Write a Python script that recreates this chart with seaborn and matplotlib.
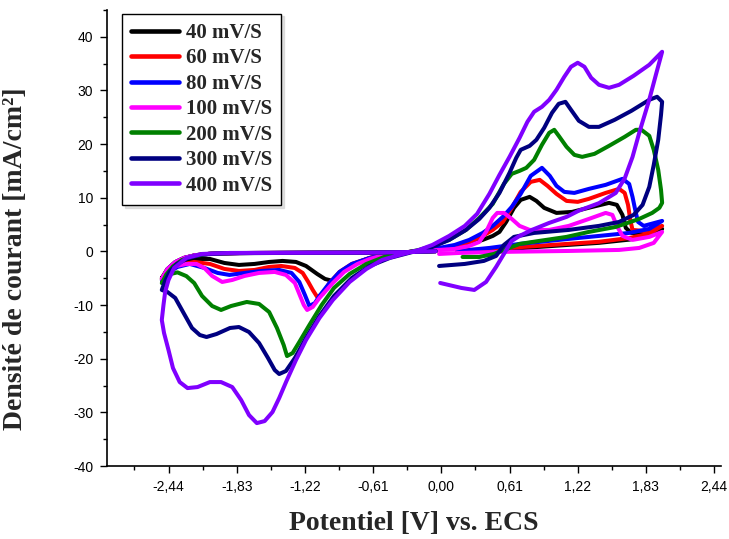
import numpy as np
import pandas as pd
import matplotlib
matplotlib.use("Agg")
import matplotlib.pyplot as plt
import seaborn as sns
from matplotlib.ticker import FixedLocator, FixedFormatter

# ---------------- data (potential E in V vs ECS, current density J in mA/cm2) -------------
labels = ["40 mV/S", "60 mV/S", "80 mV/S", "100 mV/S", "200 mV/S", "300 mV/S", "400 mV/S"]
colors = ["#000000", "#FF0000", "#0000FF", "#FF00FF", "#008000", "#000080", "#8000FF"]

E40 = [-0.05, -0.30, -0.60, -1.20, -1.80, -2.05, -2.20, -2.30, -2.38, -2.45,
       -2.50, -2.43, -2.34, -2.21, -2.07, -1.94, -1.81, -1.67, -1.54, -1.42, -1.30, -1.21,
       -1.11, -1.04, -0.97, -0.91, -0.85, -0.76, -0.64, -0.51, -0.375, -0.20, -0.02,
       0.12, 0.25, 0.37, 0.46, 0.52, 0.58, 0.65, 0.71, 0.79, 0.85, 0.92, 1.03, 1.17, 1.35,
       1.50, 1.57, 1.62, 1.65, 1.70, 1.81, 1.975,
       1.86, 1.68, 1.41, 1.05, 0.70, 0.43, 0.25, 0.14]
J40 = [0.05, -0.12, -0.22, -0.25, -0.30, -0.40, -0.70, -1.20, -2.00, -3.30,
       -4.95, -3.45, -2.15, -1.40, -1.40, -2.15, -2.52, -2.33, -1.96, -1.77, -1.96, -2.71,
       -4.20, -5.13, -5.50, -4.57, -3.26, -2.15, -1.21, -0.65, -0.28, 0.09, 0.47,
       0.84, 1.40, 2.15, 2.89, 3.64, 5.50, 8.12, 9.61, 10.17, 9.42, 8.12, 7.18, 7.37, 8.30,
       9.05, 8.68, 6.81, 4.38, 3.45, 3.45, 4.20,
       2.90, 2.20, 1.60, 1.10, 0.60, 0.30, 0.15, -0.10]

E60 = [-0.05, -0.30, -0.60, -1.20, -1.80, -2.05, -2.20, -2.30, -2.38, -2.45,
       -2.50, -2.43, -2.34, -2.21, -2.07, -1.94, -1.81, -1.67, -1.54, -1.43, -1.31, -1.24,
       -1.19, -1.15, -1.11, -1.06, -1.00, -0.91, -0.80, -0.64, -0.51, -0.375, -0.20, -0.02,
       0.12, 0.25, 0.37, 0.46, 0.55, 0.63, 0.71, 0.80, 0.88, 0.95, 1.03, 1.12, 1.22, 1.32,
       1.47, 1.59, 1.64, 1.67, 1.69, 1.71, 1.81, 1.975,
       1.86, 1.68, 1.41, 1.05, 0.70, 0.43, 0.25, 0.14]
J60 = [0.05, -0.12, -0.22, -0.25, -0.30, -0.40, -0.70, -1.20, -2.00, -3.30,
       -5.13, -3.64, -2.52, -1.96, -2.33, -3.26, -3.64, -3.45, -2.89, -2.71, -3.08, -4.01,
       -5.69, -7.18, -8.49, -7.93, -5.88, -3.82, -2.33, -1.21, -0.65, -0.28, 0.09, 0.47,
       1.03, 1.77, 2.89, 4.01, 5.50, 8.12, 11.10, 12.97, 13.34, 12.22, 10.73, 9.42, 9.24, 9.80,
       10.91, 11.66, 10.91, 8.68, 5.88, 4.01, 3.82, 4.76,
       3.30, 2.50, 1.80, 1.30, 0.80, 0.45, 0.25, 0.05]

E80 = [-0.05, -0.30, -0.60, -1.20, -1.80, -2.05, -2.20, -2.30, -2.38, -2.45,
       -2.50, -2.45, -2.36, -2.25, -2.12, -2.00, -1.895, -1.76, -1.61, -1.45, -1.34, -1.27,
       -1.22, -1.18, -1.13, -1.09, -1.00, -0.91, -0.80, -0.64, -0.51, -0.375, -0.20, -0.02,
       0.12, 0.25, 0.37, 0.46, 0.55, 0.63, 0.71, 0.80, 0.90, 0.97, 1.03, 1.10, 1.19, 1.32,
       1.47, 1.62, 1.68, 1.71, 1.74, 1.76, 1.81, 1.975,
       1.86, 1.68, 1.41, 1.05, 0.70, 0.43, 0.25, 0.14]
J80 = [0.05, -0.12, -0.22, -0.25, -0.30, -0.40, -0.70, -1.20, -2.00, -3.30,
       -5.32, -4.01, -2.89, -2.33, -3.08, -4.01, -4.38, -4.01, -3.64, -3.45, -4.01, -5.69,
       -8.12, -10.17, -9.61, -8.30, -5.88, -3.82, -2.33, -1.21, -0.65, -0.28, 0.09, 0.65,
       1.21, 2.15, 3.45, 4.76, 6.44, 8.30, 10.73, 14.09, 15.58, 14.09, 12.22, 11.10, 10.91, 11.66,
       12.41, 13.53, 12.59, 10.17, 7.18, 5.50, 4.76, 5.69,
       4.20, 3.45, 2.89, 2.15, 1.40, 0.65, 0.28, -0.09]

E100 = [-0.05, -0.30, -0.60, -1.20, -1.80, -2.05, -2.20, -2.30, -2.38, -2.45,
        -2.50, -2.45, -2.37, -2.28, -2.19, -2.12, -2.05, -1.96, -1.87, -1.76, -1.63, -1.49,
        -1.39, -1.31, -1.27, -1.23, -1.20, -1.15, -1.09, -0.97, -0.87, -0.75, -0.64, -0.51,
        -0.375, -0.20, -0.02,
        0.12, 0.25, 0.34, 0.40, 0.46, 0.50, 0.56, 0.63, 0.70, 0.79, 0.965, 1.14, 1.32, 1.47,
        1.53, 1.57, 1.62, 1.71, 1.86, 1.975,
        1.90, 1.77, 1.59, 1.14, 0.52, 0.16, -0.02]
J100 = [0.05, -0.12, -0.22, -0.25, -0.30, -0.40, -0.70, -1.20, -2.00, -3.30,
        -5.13, -3.82, -2.71, -2.33, -2.33, -3.08, -4.57, -5.69, -5.32, -4.57, -4.01, -3.82,
        -4.38, -5.88, -7.93, -9.98, -10.91, -10.35, -8.67, -5.88, -3.82, -2.33, -1.40, -0.65,
        -0.28, 0.09, 0.28,
        0.47, 1.03, 1.77, 3.64, 6.25, 7.18, 7.18, 6.06, 4.76, 4.01, 4.01, 4.76, 6.06, 7.18,
        6.81, 4.76, 2.89, 2.15, 2.71, 3.64,
        1.59, 0.65, 0.28, 0.09, -0.09, -0.28, -0.47]

E200 = [-0.05, -0.30, -0.60, -1.20, -1.85, -2.08, -2.22, -2.32, -2.40, -2.46,
        -2.50, -2.44, -2.36, -2.28, -2.21, -2.14, -2.05, -1.97, -1.88, -1.74, -1.63, -1.54,
        -1.47, -1.41, -1.38, -1.33, -1.27, -1.18, -1.07, -0.96, -0.82, -0.67, -0.51, -0.375,
        -0.20, -0.08,
        0.07, 0.22, 0.34, 0.46, 0.56, 0.63, 0.70, 0.76, 0.83, 0.90, 0.965, 1.01, 1.05, 1.12,
        1.19, 1.26, 1.37, 1.50, 1.64, 1.74, 1.79, 1.86, 1.90, 1.94, 1.965, 1.975,
        1.95, 1.886, 1.77, 1.56, 1.32, 1.12, 0.876, 0.70, 0.56, 0.47, 0.34, 0.19]
J200 = [0.05, -0.12, -0.22, -0.25, -0.30, -0.45, -0.90, -1.60, -2.80, -4.30,
        -5.90, -4.30, -3.90, -4.60, -5.90, -8.30, -10.17, -10.91, -10.17, -9.42, -9.79, -11.29,
        -14.27, -17.44, -19.50, -18.94, -16.88, -13.71, -9.98, -6.81, -4.20, -2.33, -1.03, -0.47,
        0.28, 1.03,
        2.15, 4.01, 6.25, 8.86, 12.59, 14.46, 15.02, 15.58, 17.07, 19.87, 22.11, 22.67, 21.55, 19.50,
        18.00, 17.63, 18.19, 19.68, 21.36, 22.67, 22.67, 21.55, 18.94, 15.20, 11.47, 9.05,
        8.12, 7.18, 6.06, 4.57, 3.64, 2.71, 1.96, 1.40, 0.28, -0.47, -1.03, -1.03]

E300 = [-0.05, -0.30, -0.60, -1.20, -1.95, -2.15, -2.27, -2.36, -2.43, -2.47,
        -2.50, -2.45, -2.38, -2.31, -2.23, -2.16, -2.10, -2.01, -1.89, -1.81, -1.72, -1.63,
        -1.55, -1.49, -1.45, -1.39, -1.31, -1.21, -1.09, -0.96, -0.80, -0.64, -0.46, -0.29, -0.08,
        0.07, 0.22, 0.34, 0.43, 0.52, 0.61, 0.67, 0.71, 0.79, 0.85, 0.92, 0.99, 1.05, 1.11,
        1.16, 1.23, 1.32, 1.41, 1.55, 1.70, 1.86, 1.93, 1.975,
        1.965, 1.94, 1.90, 1.86, 1.80, 1.72, 1.59, 1.41, 1.14, 0.83, 0.65, 0.56, 0.49, 0.38,
        0.21, -0.02]
J300 = [0.05, -0.12, -0.22, -0.25, -0.35, -0.60, -1.30, -2.30, -3.80, -5.50,
        -7.18, -7.55, -8.67, -11.29, -14.27, -15.58, -15.95, -15.39, -14.27, -14.09, -15.02, -17.07,
        -19.87, -22.11, -22.85, -22.29, -19.87, -16.14, -12.03, -8.30, -4.94, -2.71, -1.21, -0.28, 0.84,
        2.15, 4.01, 6.06, 8.12, 10.91, 14.65, 17.44, 18.94, 19.68, 20.80, 23.04, 25.84, 27.52, 27.89,
        26.40, 24.35, 23.22, 23.22, 24.53, 26.21, 28.26, 28.83, 27.89,
        25.47, 20.80, 16.14, 12.03, 8.68, 6.81, 5.50, 4.76, 4.01, 3.45, 2.71, 1.21, -0.84, -1.77,
        -2.33, -2.71]

E400 = [-0.05, -0.30, -0.60, -1.20, -1.89, -2.14, -2.28, -2.39, -2.44, -2.47, -2.485,
        -2.50, -2.48, -2.44, -2.40, -2.34, -2.27, -2.18, -2.07, -1.97, -1.87, -1.79, -1.72,
        -1.65, -1.58, -1.51, -1.45, -1.385, -1.30, -1.21, -1.09, -0.97, -0.82, -0.67, -0.53,
        -0.375, -0.20, -0.08,
        0.07, 0.21, 0.32, 0.43, 0.52, 0.61, 0.70, 0.77, 0.83, 0.90, 0.965, 1.03, 1.10, 1.16,
        1.22, 1.28, 1.34, 1.41, 1.50, 1.59, 1.72, 1.86, 1.975,
        1.92, 1.86, 1.77, 1.71, 1.64, 1.56, 1.41, 1.23, 1.12, 0.965, 0.81, 0.70, 0.63, 0.56,
        0.49, 0.40, 0.295, 0.18, -0.01]
J400 = [0.05, -0.12, -0.22, -0.25, -0.28, -0.47, -1.21, -3.08, -5.32, -7.55, -9.98,
        -12.78, -15.21, -18.38, -21.74, -24.35, -25.47, -25.28, -24.35, -24.35, -25.28, -27.71, -30.50,
        -32.00, -31.62, -29.94, -27.33, -24.16, -20.24, -16.51, -12.41, -9.05, -5.69, -3.26, -1.59,
        -0.65, 0.28, 1.21,
        2.89, 4.76, 7.00, 10.73, 14.27, 17.63, 21.18, 24.16, 26.03, 26.96, 28.26, 30.13, 32.56, 34.42,
        35.17, 34.42, 32.37, 31.06, 30.50, 31.06, 32.74, 34.79, 37.22,
        33.0, 28.3, 22.1, 17.6, 13.6, 10.9, 9.0, 7.6, 6.44, 5.32, 4.01, 2.89, 1.96, -0.47,
        -2.89, -5.69, -7.18, -6.81, -5.88]

x_ticks = [-2.44, -1.83, -1.22, -0.61, 0.00, 0.61, 1.22, 1.83, 2.44]
x_tick_labels = ["-2,44", "-1,83", "-1,22", "-0,61", "0,00", "0,61", "1,22", "1,83", "2,44"]
y_ticks = [-40, -30, -20, -10, 0, 10, 20, 30, 40]
y_tick_labels = ["-40", "-30", "-20", "-10", "0", "10", "20", "30", "40"]

# ---------------- build long table ----------------
E_all = [E40, E60, E80, E100, E200, E300, E400]
J_all = [J40, J60, J80, J100, J200, J300, J400]
frames = []
for lab, E, J in zip(labels, E_all, J_all):
    frames.append(pd.DataFrame({"E": E, "J": J, "rate": lab}))
df = pd.concat(frames, ignore_index=True)

# ---------------- plot ----------------
sns.set_theme(style="ticks")
plt.rcParams["font.family"] = ["Liberation Sans", "DejaVu Sans"]

fig = plt.figure(figsize=(7.29, 5.39), dpi=100)
ax = fig.add_axes([0.1468, 0.1354, 0.842, 0.846])

sns.lineplot(data=df, x="E", y="J", hue="rate", hue_order=labels,
             palette=dict(zip(labels, colors)), sort=False, estimator=None,
             linewidth=2.9, ax=ax)
for ln in ax.get_lines():
    ln.set_solid_joinstyle("round")
    ln.set_solid_capstyle("round")

ax.set_xlim(-2.99, 2.50)
ax.set_ylim(-40, 45)

ax.xaxis.set_major_locator(FixedLocator(x_ticks))
ax.xaxis.set_major_formatter(FixedFormatter(x_tick_labels))
ax.xaxis.set_minor_locator(FixedLocator([-2.745, -2.135, -1.525, -0.915, -0.305,
                                         0.305, 0.915, 1.525, 2.135]))
ax.yaxis.set_major_locator(FixedLocator(y_ticks))
ax.yaxis.set_major_formatter(FixedFormatter(y_tick_labels))
ax.yaxis.set_minor_locator(FixedLocator([-35, -25, -15, -5, 5, 15, 25, 35, 45]))

ax.tick_params(which="major", direction="out", length=5, width=1.0, colors="black",
               labelsize=10, pad=5)
ax.tick_params(which="minor", direction="out", length=3, width=1.0, colors="black")
for lab in ax.get_xticklabels() + ax.get_yticklabels():
    lab.set_fontfamily("Liberation Sans")

sns.despine(ax=ax)
for sp in ("left", "bottom"):
    ax.spines[sp].set_linewidth(1.2)
    ax.spines[sp].set_color("black")

lab_font = dict(family="Liberation Serif", weight="bold", size=20)
ax.set_xlabel("Potentiel [V] vs. ECS", fontdict=lab_font, labelpad=12)
ax.set_ylabel("Densité de courant [mA/cm²]", fontdict=lab_font)
ax.yaxis.set_label_coords(-0.129, 0.454)

handles, labs = ax.get_legend_handles_labels()
leg = ax.legend(handles, labs, loc="upper left", bbox_to_anchor=(0.0244, 0.992),
                borderaxespad=0, frameon=True, fancybox=False, edgecolor="black",
                prop=dict(family="Liberation Serif", weight="bold", size=15),
                handlelength=2.3, handletextpad=0.3, labelspacing=0.26,
                borderpad=0.45, shadow={"color": "0.8", "alpha": 0.6})
leg.get_frame().set_linewidth(1.0)
for h in leg.get_lines():
    h.set_linewidth(3.3)

fig.savefig("out.png", dpi=100)
